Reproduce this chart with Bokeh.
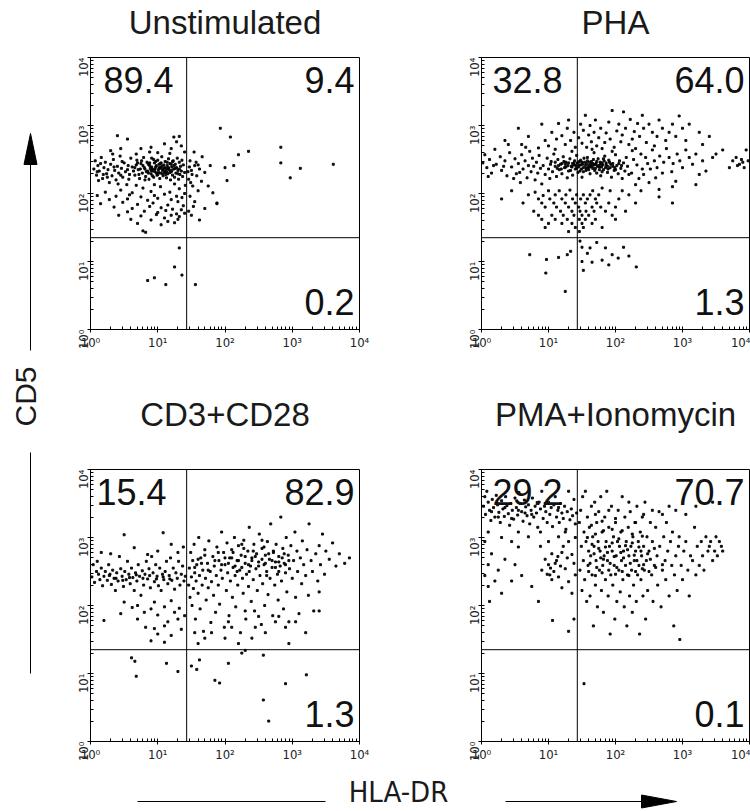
import math
from bokeh.plotting import figure
from bokeh.models import Range1d, FixedTicker, Span, Label, CustomJSTickFormatter
from bokeh.layouts import row, column
from bokeh.embed import file_html
from bokeh.resources import INLINE
from bokeh.core.properties import value

FONT = "Liberation Sans"
NARROW = "'Liberation Sans Narrow', 'DejaVu Sans Condensed', 'Liberation Sans', sans-serif"

# ---------------- data ----------------
titles = ["Unstimulated", "PHA", "CD3+CD28", "PMA+Ionomycin"]
quad_ul = ["89.4", "32.8", "15.4", "29.2"]
quad_ur = ["9.4", "64.0", "82.9", "70.7"]
quad_lr = ["0.2", "1.3", "1.3", "0.1"]
gate_x_decade = 1.43          # HLA-DR gate (log10)
gate_y_decade = 1.35          # CD5 gate (log10)
major_ticks = [1, 10, 100, 1000, 10000]
tick_labels = ["10\u2070", "10\u00b9", "10\u00b2", "10\u00b3", "10\u2074"]
x_label = "HLA-DR"
y_label = "CD5"

# events as (log10 HLA-DR, log10 CD5)
unstim_events = [
    (0.62,2.39),(0.66,2.27),(0.69,2.49),(0.71,2.35),(0.73,2.22),(0.75,2.44),(0.77,2.30),(0.79,2.53),(0.8,2.38),(0.82,2.25),
    (0.84,2.46),(0.85,2.33),(0.87,2.21),(0.88,2.41),(0.9,2.29),(0.91,2.52),(0.92,2.36),(0.94,2.24),(0.95,2.45),(0.96,2.32),
    (0.97,2.39),(0.99,2.27),(1.0,2.49),(1.01,2.35),(1.02,2.43),(1.03,2.22),(1.04,2.30),(1.05,2.38),(1.06,2.54),(1.07,2.34),
    (1.08,2.26),(1.09,2.42),(1.1,2.31),(1.11,2.47),(1.12,2.37),(1.13,2.23),(1.14,2.41),(1.15,2.29),(1.16,2.51),(1.17,2.35),
    (1.18,2.44),(1.19,2.20),(1.2,2.32),(1.21,2.39),(1.22,2.27),(1.23,2.48),(1.24,2.36),(1.25,2.24),(1.26,2.43),(1.27,2.30),
    (1.28,2.38),(1.29,2.52),(1.3,2.34),(1.31,2.21),(1.32,2.46),(1.33,2.28),(1.34,2.40),(1.35,2.33),(1.36,2.49),(1.37,2.25),
    (0.93,2.33),(0.98,2.41),(1.03,2.37),(1.08,2.35),(1.13,2.32),(0.89,2.37),(0.86,2.43),(1.0,2.28),(1.05,2.45),(1.1,2.38),
    (1.15,2.36),(1.2,2.43),(0.83,2.32),(0.78,2.41),(0.72,2.28),(0.68,2.42),(0.64,2.33),(0.76,2.48),(0.81,2.20),(0.94,2.50),
    (0.86,2.30),(0.91,2.39),(0.96,2.36),(1.01,2.31),(1.06,2.40),(1.11,2.33),(1.16,2.38),(1.21,2.34),(1.26,2.37),(0.81,2.36),
    (0.88,2.45),(0.98,2.30),(1.04,2.44),(1.12,2.28),(1.18,2.31),(1.24,2.41),(1.3,2.29),(0.74,2.36),(0.92,2.26),(1.07,2.29),
    (0.97,2.47),(1.14,2.46),(1.32,2.36),(1.38,2.42),(1.4,2.31),(0.7,2.45),(0.66,2.38),(1.22,2.47),(1.02,2.38),(0.9,2.34),
    (0.05,2.36),(0.07,2.48),(0.09,2.27),(0.11,2.41),(0.13,2.33),(0.16,2.53),(0.18,2.22),(0.2,2.38),(0.22,2.46),(0.24,2.29),
    (0.26,2.35),(0.28,2.16),(0.3,2.43),(0.32,2.26),(0.34,2.50),(0.36,2.34),(0.38,2.20),(0.4,2.40),(0.42,2.30),(0.44,2.55),
    (0.46,2.37),(0.48,2.24),(0.5,2.45),(0.52,2.32),(0.54,2.13),(0.56,2.41),(0.58,2.28),(0.6,2.52),(0.15,2.44),(0.25,2.24),
    (0.35,2.39),(0.45,2.27),(0.55,2.35),(0.12,2.19),(0.33,2.58),(0.47,2.47),(0.57,2.21),(0.1,2.32),(0.41,2.14),(0.19,2.28),
    (0.3,2.63),(0.55,2.80),(0.75,2.66),(0.9,2.68),(1.1,2.73),(1.2,2.66),(1.28,2.76),(1.35,2.70),(1.0,2.60),(0.68,2.58),
    (1.4,2.61),(1.18,2.59),(0.88,2.61),(0.45,2.66),(0.4,2.85),(1.24,2.83),(1.32,2.84),
    (0.22,2.02),(0.45,2.05),(0.62,2.01),(0.78,2.08),(0.9,2.03),(1.04,2.10),(1.18,2.02),(1.32,2.07),(1.41,2.12),(0.1,1.97),
    (0.38,1.96),(0.58,1.98),(0.75,1.95),(0.95,1.97),(1.1,1.99),(1.28,1.96),(1.4,2.00),(0.28,1.91),(0.55,1.92),(0.85,1.90),
    (1.0,1.93),(1.2,1.91),(1.36,1.94),(0.15,1.85),(0.48,1.87),(0.7,1.84),(0.93,1.86),(1.15,1.83),(1.3,1.88),(0.35,1.80),
    (0.62,1.78),(0.88,1.81),(1.05,1.79),(1.22,1.77),(1.38,1.82),(0.55,1.73),(0.8,1.74),(1.0,1.72),(1.12,1.75),(1.28,1.70),
    (1.35,1.76),(0.42,1.68),(0.75,1.67),(0.98,1.69),(1.1,1.64),(1.2,1.68),(1.32,1.66),(1.4,1.71),(0.6,1.62),(0.9,1.61),
    (1.15,1.59),(1.3,1.62),(0.7,1.56),(1.05,1.54),(1.25,1.57),(0.78,1.45),(0.82,1.43),(0.95,2.13),(0.68,2.12),(1.25,2.14),
    (1.48,2.48),(1.55,2.41),(1.62,2.36),(1.5,2.34),(1.7,2.31),(1.58,2.26),(1.46,2.21),(1.65,2.18),(1.75,2.11),(1.52,2.11),
    (1.6,2.04),(1.48,1.96),(1.82,2.01),(1.55,1.88),(1.7,1.78),(1.5,1.68),(1.62,1.61),(1.88,1.86),(1.78,2.41),(1.66,2.54),
    (1.54,2.61),(1.47,2.39),(1.51,2.28),(1.57,2.46),(1.45,2.32),(1.6,2.42),(1.49,2.16),(1.53,1.81),(1.46,1.74),
    (1.93,2.96),(2.08,2.83),(2.2,2.57),(2.35,2.62),(2.13,2.41),(2.83,2.68),(2.83,2.45),(2.97,2.23),(3.12,2.37),(3.61,2.43),
    (2.03,2.19),(1.88,1.85),(2.0,2.38),
    (0.85,0.72),(0.95,0.76),(1.12,0.66),(1.25,0.92),(1.32,1.2),(1.36,0.8),(1.56,0.66),
]

pha_events = [
    (0.92,2.41),(0.95,2.28),(0.98,2.52),(1.0,2.36),(1.02,2.22),(1.04,2.47),(1.06,2.32),(1.08,2.58),(1.1,2.40),(1.12,2.25),
    (1.14,2.50),(1.16,2.35),(1.18,2.43),(1.2,2.29),(1.22,2.54),(1.24,2.38),(1.26,2.46),(1.28,2.23),(1.3,2.33),(1.32,2.51),
    (1.34,2.40),(1.36,2.27),(1.38,2.45),(1.4,2.36),(1.42,2.56),(1.44,2.31),(1.46,2.42),(1.48,2.49),(1.5,2.24),(1.52,2.38),
    (1.54,2.46),(1.56,2.34),(1.58,2.53),(1.6,2.41),(1.62,2.29),(1.64,2.47),(1.66,2.37),(1.68,2.60),(1.7,2.43),(1.72,2.30),
    (1.74,2.51),(1.76,2.39),(1.78,2.26),(1.8,2.45),(1.82,2.35),(1.84,2.55),(1.86,2.42),(1.88,2.31),(1.9,2.49),(1.92,2.38),
    (1.94,2.24),(1.96,2.44),(1.98,2.34),(2.0,2.57),(2.02,2.41),(2.04,2.29),(2.06,2.48),(2.08,2.37),(2.1,2.22),(2.12,2.45),
    (2.14,2.33),(2.16,2.53),(2.18,2.40),(2.2,2.28),(1.45,2.39),(1.55,2.41),(1.65,2.40),(1.75,2.41),(1.85,2.38),(1.5,2.46),
    (1.6,2.35),(1.7,2.37),(1.8,2.32),(1.57,2.44),(1.67,2.50),(1.77,2.46),(1.35,2.39),(1.25,2.43),(1.15,2.41),(1.47,2.33),
    (1.53,2.52),(1.63,2.43),(1.73,2.40),(1.83,2.48),(1.93,2.43),(1.43,2.45),(1.33,2.34),(1.23,2.47),(1.13,2.37),(1.03,2.43),
    (1.49,2.36),(1.59,2.38),(1.69,2.34),(1.79,2.39),(1.89,2.36),(1.99,2.38),(2.09,2.41),(1.39,2.48),(1.29,2.41),(1.19,2.36),
    (1.41,2.41),(1.51,2.43),(1.61,2.46),(1.71,2.44),(1.81,2.42),(1.91,2.46),(1.46,2.47),(1.56,2.37),(1.66,2.44),(1.76,2.35),
    (1.86,2.45),(1.36,2.44),(1.26,2.39),(1.62,2.39),(1.72,2.47),(1.52,2.32),(1.42,2.37),(1.82,2.51),(1.96,2.40),(2.05,2.44),
    (1.58,2.48),(1.68,2.42),(1.78,2.43),(1.48,2.42),(1.38,2.42),(1.88,2.40),(2.0,2.35),(1.3,2.45),(1.2,2.44),(1.1,2.46),
    (0.02,2.45),(0.05,2.57),(0.08,2.38),(0.12,2.50),(0.15,2.30),(0.2,2.65),(0.22,2.43),(0.28,2.54),(0.3,2.34),(0.35,2.48),
    (0.38,2.26),(0.42,2.60),(0.45,2.39),(0.5,2.51),(0.52,2.29),(0.55,2.44),(0.58,2.16),(0.6,2.57),(0.62,2.36),(0.65,2.48),
    (0.68,2.23),(0.7,2.41),(0.72,2.62),(0.74,2.32),(0.76,2.52),(0.78,2.40),(0.8,2.20),(0.82,2.46),(0.84,2.30),(0.86,2.56),
    (0.88,2.37),(0.9,2.14),(0.48,2.22),(0.33,2.40),(0.18,2.41),(0.66,2.68),(0.4,2.72),(0.1,2.25),(0.57,2.31),(0.85,2.67),
    (0.55,2.96),(0.7,2.84),(0.35,2.78),(0.6,2.72),(0.9,3.02),(0.95,2.78),(1.0,2.70),(1.05,2.90),(1.12,2.80),(1.15,3.03),
    (1.2,2.85),(1.25,2.72),(1.28,2.96),(1.3,3.08),(1.33,2.78),(1.38,2.90),(1.4,2.68),(1.45,2.82),(1.48,3.02),(1.5,2.74),
    (1.52,2.93),(1.55,3.15),(1.57,2.68),(1.6,2.86),(1.62,3.00),(1.64,2.76),(1.68,2.90),(1.7,3.08),(1.72,2.70),(1.75,2.82),
    (1.78,2.96),(1.8,2.66),(1.84,2.75),(1.86,2.89),(1.9,3.05),(1.92,2.80),(1.95,3.22),(1.98,2.68),(2.02,2.92),(2.05,3.02),
    (2.08,2.76),(2.1,2.86),(2.12,3.20),(2.15,2.96),(2.2,2.72),(2.22,3.09),(2.25,2.80),(2.28,2.91),(2.3,2.66),(2.33,3.03),
    (2.36,2.84),(2.4,3.15),(2.42,2.96),(2.46,2.75),(2.5,3.02),(2.55,2.90),(2.58,2.70),(2.62,2.84),(2.65,3.08),(2.7,2.96),
    (2.75,2.78),(2.8,2.90),(2.85,3.02),(2.9,2.84),(2.95,3.14),(3.0,2.96),(3.05,2.78),(3.1,3.02),(3.25,2.90),(3.3,2.72),
    (3.4,2.84),(1.35,2.62),(1.65,2.65),(1.95,2.62),(2.25,2.63),(1.1,2.65),
    (2.24,2.30),(2.27,2.50),(2.3,2.13),(2.32,2.42),(2.35,2.22),(2.38,2.58),(2.4,2.36),(2.42,2.28),(2.45,2.53),(2.48,2.44),
    (2.5,2.16),(2.52,2.36),(2.55,2.64),(2.58,2.48),(2.6,2.23),(2.62,2.38),(2.66,2.55),(2.7,2.30),(2.72,2.46),(2.76,2.66),
    (2.8,2.53),(2.84,2.32),(2.86,2.44),(2.9,2.18),(2.92,2.58),(2.96,2.48),(3.0,2.38),(3.05,2.64),(3.1,2.53),(3.15,2.43),
    (3.2,2.58),(3.25,2.28),(3.3,2.48),(3.35,2.33),(3.45,2.53),(3.5,2.58),(3.6,2.64),(3.7,2.38),(3.75,2.48),(3.8,2.53),
    (3.85,2.43),(3.9,2.46),(3.92,2.38),(3.95,2.64),(3.98,2.48),(3.88,2.50),(3.82,2.41),(2.65,2.06),(2.85,2.10),(3.2,2.13),
    (0.45,2.04),(0.7,1.98),(0.3,1.92),(0.62,1.86),(0.8,2.02),(0.85,1.92),(0.9,1.86),(0.92,1.97),(0.95,1.8),(1.0,2.04),
    (1.02,1.92),(1.05,1.68),(1.08,1.86),(1.1,1.98),(1.12,1.8),(1.16,2.04),(1.18,1.74),(1.2,1.92),(1.22,1.68),(1.25,1.86),
    (1.26,1.98),(1.28,1.62),(1.3,1.8),(1.32,2.05),(1.35,1.74),(1.36,1.92),(1.38,1.68),(1.4,1.86),(1.42,1.98),(1.45,1.8),
    (1.46,1.62),(1.47,1.74),(1.48,1.92),(1.5,1.68),(1.52,1.98),(1.55,1.86),(1.56,1.74),(1.58,1.92),(1.6,1.68),(1.62,1.98),
    (1.65,1.8),(1.66,2.04),(1.68,1.74),(1.7,1.92),(1.72,1.86),(1.75,1.98),(1.78,1.8),(1.8,2.08),(1.85,1.74),(1.9,1.86),
    (1.92,2.04),(1.95,1.68),(2.0,1.8),(2.05,1.92),(2.1,2.04),(2.15,1.74),(2.2,1.98),(2.3,1.86),(2.38,2.04),(2.65,1.95),
    (2.85,1.86),(0.78,1.74),(0.85,1.68),(0.9,1.62),(1.0,1.56),(1.2,1.56),(1.35,1.56),(1.5,1.56),(1.65,1.56),(0.95,1.5),
    (1.4,1.5),(1.52,1.5),(1.8,1.5),(1.3,1.44),(1.46,1.44),(1.1,1.62),(1.55,1.62),(1.7,1.62),(2.0,1.62),
    (0.72,1.1),(0.97,1.03),(1.15,1.06),(1.28,1.1),(0.96,0.83),(1.25,0.56),(1.33,1.15),
    (1.5,1.21),(1.62,1.2),(1.85,1.2),(2.12,1.21),(1.5,1.0),(1.65,0.99),(1.8,1.02),(1.52,0.87),
    (2.31,0.92),(2.04,1.05),(1.58,1.12),(1.72,1.28),(1.95,1.1),(1.47,1.3),(2.2,1.08),(1.9,0.95),
]

cd3_events = [
    (0.02,2.42),(0.04,2.60),(0.06,2.34),(0.09,2.50),(0.1,2.65),(0.12,2.46),(0.14,2.38),(0.16,2.55),(0.18,2.29),(0.2,2.43),
    (0.22,2.50),(0.25,2.37),(0.27,2.60),(0.29,2.46),(0.31,2.31),(0.33,2.52),(0.35,2.40),(0.37,2.22),(0.39,2.48),(0.41,2.36),
    (0.43,2.72),(0.45,2.54),(0.47,2.43),(0.49,2.28),(0.51,2.50),(0.53,2.38),(0.55,2.65),(0.57,2.46),(0.59,2.32),(0.61,2.55),
    (0.63,2.41),(0.65,2.22),(0.67,2.48),(0.69,2.36),(0.71,2.60),(0.73,2.43),(0.75,2.15),(0.77,2.51),(0.79,2.30),(0.81,2.46),
    (0.83,2.65),(0.85,2.39),(0.87,2.54),(0.89,2.26),(0.91,2.72),(0.93,2.48),(0.95,2.35),(0.97,2.60),(0.99,2.43),(1.01,2.29),
    (1.03,2.55),(1.05,2.22),(1.07,2.46),(1.09,2.38),(1.11,2.50),(1.13,2.65),(1.15,2.32),(1.17,2.44),(1.19,2.70),(1.21,2.37),
    (1.23,2.55),(1.25,2.24),(1.27,2.48),(1.29,2.40),(1.31,2.65),(1.33,2.30),(1.35,2.46),(1.37,2.58),(1.39,2.36),(1.41,2.43),
    (0.58,2.41),(0.68,2.45),(0.78,2.40),(0.88,2.44),(0.98,2.39),(1.08,2.42),(0.48,2.37),(0.38,2.40),(0.28,2.44),(1.18,2.39),
    (0.5,2.05),(0.7,2.0),(0.95,2.05),(1.2,2.07),(0.62,1.97),(0.9,1.95),(1.1,1.98),(1.32,1.96),(0.45,1.88),(0.8,1.9),
    (1.0,1.86),(1.25,1.9),(1.4,1.85),(0.2,1.78),(0.7,1.8),(1.15,1.76),(1.3,1.8),(0.82,1.68),(0.95,1.66),(1.1,1.7),
    (1.35,1.65),(1.0,1.58),(1.2,1.56),(0.9,1.48),(1.1,1.46),
    (0.5,3.04),(1.08,3.07),(0.16,2.78),(0.65,2.85),(1.2,2.9),(0.85,2.75),(1.3,2.78),(1.38,2.86),(0.3,2.76),(1.0,2.8),
    (1.46,2.3),(1.47,2.55),(1.48,2.12),(1.49,2.78),(1.5,2.42),(1.51,2.0),(1.52,2.66),(1.53,2.25),(1.54,2.9),(1.55,2.48),
    (1.56,1.8),(1.57,2.36),(1.58,2.6),(1.6,2.18),(1.61,3.0),(1.62,2.44),(1.63,1.95),(1.64,2.7),(1.66,2.3),(1.67,2.52),
    (1.68,1.62),(1.7,2.82),(1.71,2.4),(1.72,2.08),(1.74,2.62),(1.75,2.26),(1.76,2.95),(1.78,2.5),(1.79,1.75),(1.8,2.35),
    (1.82,2.72),(1.83,2.15),(1.84,2.58),(1.86,1.9),(1.87,2.44),(1.88,2.86),(1.9,2.3),(1.91,2.66),(1.92,2.02),(1.94,2.52),
    (1.95,3.08),(1.96,2.4),(1.98,2.78),(1.99,1.68),(2.0,2.6),(2.02,2.22),(2.03,2.92),(2.04,2.48),(2.06,1.85),(2.07,2.7),
    (2.08,2.36),(2.1,2.82),(2.11,2.12),(2.12,2.56),(2.14,3.0),(2.15,2.44),(2.16,1.98),(2.18,2.66),(2.19,2.3),(2.2,2.88),
    (2.22,2.52),(2.23,1.6),(2.24,2.74),(2.26,2.4),(2.27,2.18),(2.28,2.96),(2.3,2.62),(2.31,1.8),(2.32,2.46),(2.34,2.8),
    (2.35,2.28),(2.36,3.15),(2.38,2.58),(2.39,2.06),(2.4,2.7),(2.42,2.38),(2.43,2.9),(2.44,1.92),(2.46,2.54),(2.47,2.76),
    (2.48,2.22),(2.5,2.64),(2.51,3.05),(2.52,2.44),(2.54,1.72),(2.55,2.84),(2.56,2.32),(2.58,2.6),(2.59,2.0),(2.6,2.74),
    (2.62,2.5),(2.63,2.94),(2.64,2.16),(2.66,2.68),(2.67,2.4),(2.68,3.2),(2.7,2.56),(2.71,1.85),(2.72,2.8),(2.74,2.3),
    (2.75,2.64),(2.76,2.9),(2.78,2.46),(2.79,2.08),(2.8,2.72),(2.82,2.58),(2.83,3.3),(2.84,2.36),(2.86,2.84),(2.87,1.95),
    (2.88,2.62),(2.9,2.48),(2.91,3.0),(2.92,2.2),(2.94,2.74),(2.95,1.76),(2.96,2.54),(2.98,2.88),(3.0,2.4),(3.02,2.66),
    (3.04,3.08),(3.05,2.12),(3.07,2.8),(3.08,2.5),(3.1,1.88),(3.12,2.7),(3.14,2.32),(3.15,2.95),(3.17,2.6),(3.2,2.44),
    (3.22,2.82),(3.24,2.15),(3.25,3.2),(3.28,2.66),(3.3,2.5),(3.32,1.92),(3.35,2.76),(3.38,2.36),(3.4,2.88),(3.42,2.6),
    (3.45,3.05),(3.48,2.46),(3.5,2.8),(3.55,2.68),(3.6,2.92),(3.65,2.58),(3.7,2.76),(3.78,2.62),(3.85,2.7),(3.4,2.2),
    (3.2,1.6),(2.95,1.44),(2.6,1.6),(2.4,1.52),(2.2,1.44),(2.0,1.52),(1.8,1.6),(1.6,1.44),(1.7,1.52),(2.1,1.68),
    (2.45,1.68),(2.9,1.68),(3.05,1.76),(2.75,1.76),(2.5,1.84),(2.3,1.92),(2.8,1.84),(3.4,1.92),(2.05,1.76),(1.55,1.6),
    (2.05,2.62),(2.1,2.7),(2.15,2.58),(2.2,2.66),(2.25,2.56),(2.3,2.72),(2.35,2.6),(2.4,2.66),(2.45,2.72),(2.5,2.58),
    (2.55,2.68),(2.6,2.62),(2.65,2.76),(2.7,2.66),(2.75,2.56),(2.8,2.64),(2.85,2.7),(2.9,2.6),(2.95,2.66),(2.0,2.7),
    (2.12,2.78),(2.28,2.84),(2.42,2.8),(2.58,2.86),(2.72,2.78),(2.88,2.76),(2.18,2.5),(2.36,2.5),(2.62,2.44),(2.8,2.5),
    (1.95,2.6),(1.85,2.66),(1.75,2.52),(1.65,2.62),(1.55,2.56),(1.6,2.68),(1.7,2.74),(1.9,2.78),(2.25,2.9),(2.55,2.96),
    (0.61,1.23),(0.66,1.18),(1.13,1.15),(1.3,1.03),(0.68,0.96),
    (1.5,1.11),(1.58,1.06),(1.85,0.9),(1.92,0.86),(2.25,1.3),(2.3,1.34),(2.57,1.27),(2.9,0.85),
    (3.21,0.98),(2.57,0.61),(1.62,1.2),(2.05,1.15),(2.65,0.3),
]

pma_events = [
    (0.03,3.46),(0.05,3.6),(0.06,3.34),(0.08,3.68),(0.1,3.52),(0.12,3.4),(0.14,3.25),(0.16,3.56),(0.18,3.44),(0.2,3.3),
    (0.22,3.62),(0.24,3.48),(0.26,3.37),(0.28,3.22),(0.3,3.54),(0.32,3.42),(0.34,3.31),(0.36,3.6),(0.38,3.47),(0.4,3.35),
    (0.42,3.18),(0.44,3.5),(0.46,3.4),(0.48,3.27),(0.5,3.58),(0.52,3.44),(0.54,3.33),(0.56,3.66),(0.58,3.5),(0.6,3.38),
    (0.62,3.24),(0.64,3.55),(0.66,3.45),(0.68,3.32),(0.7,3.48),(0.72,3.2),(0.74,3.4),(0.76,3.58),(0.78,3.3),(0.8,3.46),
    (0.82,3.36),(0.84,3.15),(0.86,3.52),(0.88,3.42),(0.9,3.68),(0.92,3.28),(0.94,3.46),(0.96,3.38),(0.98,3.22),(1.0,3.52),
    (1.02,3.34),(1.04,3.44),(1.06,3.16),(1.08,3.48),(1.1,3.6),(1.12,3.3),(1.14,3.4),(1.16,3.22),(1.18,3.5),(1.2,3.36),
    (1.22,3.28),(1.24,3.46),(1.26,3.12),(1.28,3.38),(1.3,3.68),(1.32,3.26),(1.34,3.42),(1.36,3.32),(1.38,3.56),(1.4,3.2),
    (1.42,3.36),(0.15,3.38),(0.35,3.44),(0.55,3.4),(0.75,3.34),(0.95,3.5),(1.15,3.44),(0.25,3.3),(0.45,3.28),(0.65,3.36),
    (0.1,3.08),(0.3,3.0),(0.55,3.08),(0.7,3.01),(0.88,3.08),(1.15,3.01),(1.25,3.08),(1.4,3.0),(0.05,2.94),(0.45,2.94),
    (1.0,2.94),(1.3,2.94),(0.55,2.86),(0.88,2.87),(1.22,2.87),(0.15,2.76),(1.05,2.76),(1.2,2.78),(1.35,2.75),(0.35,2.68),
    (0.95,2.68),(1.12,2.66),(1.28,2.7),(0.1,2.6),(0.5,2.6),(1.0,2.6),(1.18,2.58),(1.38,2.62),(0.25,2.52),(0.9,2.52),
    (1.08,2.5),(1.25,2.54),(0.05,2.44),(0.6,2.44),(0.98,2.46),(1.15,2.42),(1.4,2.45),(0.2,2.36),(0.45,2.36),(1.05,2.38),
    (1.3,2.35),(0.1,2.28),(0.75,2.28),(1.2,2.26),(0.3,2.18),(1.35,2.18),(0.12,2.06),(0.85,2.06),(1.06,1.78),(1.38,1.8),
    (1.3,1.62),(1.03,2.55),(1.1,2.62),(1.14,2.72),(1.02,2.45),
    (1.46,3.22),(1.47,2.52),(1.48,3.4),(1.49,2.87),(1.5,2.22),(1.51,3.6),(1.52,2.66),(1.53,3.08),(1.54,2.38),(1.55,3.68),
    (1.56,2.94),(1.57,2.06),(1.58,3.3),(1.59,2.59),(1.6,2.8),(1.61,3.15),(1.62,2.14),(1.63,2.73),(1.64,3.46),(1.65,2.45),
    (1.66,3.01),(1.67,1.7),(1.68,2.87),(1.69,3.52),(1.7,2.3),(1.71,2.66),(1.72,3.22),(1.73,1.98),(1.74,2.94),(1.75,3.38),
    (1.76,2.52),(1.77,2.8),(1.78,3.6),(1.79,2.22),(1.8,3.08),(1.81,2.59),(1.82,1.9),(1.83,2.73),(1.84,3.3),(1.85,2.38),
    (1.86,2.94),(1.87,3.68),(1.88,2.66),(1.89,2.14),(1.9,3.15),(1.91,2.87),(1.92,1.58),(1.93,2.45),(1.94,3.46),(1.95,2.8),
    (1.96,2.3),(1.97,3.01),(1.98,2.59),(1.99,1.8),(2.0,3.22),(2.01,2.73),(2.02,2.06),(2.03,2.94),(2.04,3.4),(2.05,2.52),
    (2.06,2.87),(2.07,2.2),(2.08,3.08),(2.09,2.66),(2.1,3.6),(2.11,2.38),(2.12,2.8),(2.13,1.98),(2.14,3.3),(2.15,2.59),
    (2.16,2.94),(2.17,1.7),(2.18,2.45),(2.19,3.15),(2.2,2.73),(2.21,2.14),(2.22,3.38),(2.23,2.87),(2.24,2.52),(2.25,1.9),
    (2.26,3.01),(2.27,2.3),(2.28,2.66),(2.29,3.22),(2.3,2.8),(2.31,2.06),(2.32,3.46),(2.33,2.45),(2.34,2.94),(2.35,2.59),
    (2.36,1.58),(2.37,3.08),(2.38,2.38),(2.39,2.73),(2.4,3.3),(2.41,2.14),(2.42,2.87),(2.43,2.52),(2.44,3.52),(2.45,1.8),
    (2.46,2.66),(2.47,3.01),(2.48,2.22),(2.5,2.8),(2.52,3.22),(2.54,2.45),(2.55,2.94),(2.56,2.06),(2.58,2.59),(2.6,3.15),
    (2.62,2.73),(2.63,2.3),(2.65,3.38),(2.66,2.87),(2.68,1.98),(2.7,2.52),(2.72,3.01),(2.74,2.66),(2.75,2.38),(2.76,3.22),
    (2.78,2.8),(2.8,2.14),(2.82,2.94),(2.84,2.59),(2.85,3.08),(2.87,1.7),(2.88,2.45),(2.9,2.73),(2.92,2.22),(2.94,2.87),
    (2.95,3.01),(2.96,1.5),(2.98,2.59),(3.0,2.38),(3.02,2.8),(3.05,2.94),(3.08,2.52),(3.1,2.14),(3.12,2.73),(3.15,2.66),
    (3.18,3.15),(3.2,2.45),(3.22,2.87),(3.25,2.59),(3.28,2.94),(3.3,2.73),(3.32,2.52),(3.35,3.01),(3.38,2.8),(3.4,2.87),
    (3.42,2.94),(3.45,2.66),(3.48,2.8),(3.5,3.01),(3.52,2.73),(3.55,2.94),(3.58,2.87),(3.6,2.8),(3.45,3.52),(3.2,3.46),
    (3.05,3.34),(2.9,3.4),(2.8,3.46),(2.7,3.34),(2.55,3.4),(2.42,3.34),(2.3,3.22),(2.2,3.52),(1.9,3.4),(1.7,3.34),
    (1.62,2.62),(1.72,2.56),(1.82,2.68),(1.92,2.62),(2.02,2.56),(2.12,2.7),(2.22,2.62),(2.32,2.66),(2.42,2.6),(2.52,2.68),
    (1.68,2.76),(1.78,2.7),(1.88,2.78),(1.98,2.72),(2.08,2.78),(2.18,2.82),(2.28,2.74),(2.38,2.8),(2.48,2.76),(2.58,2.84),
    (1.65,2.9),(1.75,2.84),(1.85,2.86),(1.95,2.92),(2.05,2.98),(2.15,2.88),(2.25,2.92),(2.35,2.86),(1.6,2.5),(1.7,2.44),
    (1.8,2.48),(1.9,2.52),(2.0,2.46),(2.1,2.5),(2.2,2.44),(2.3,2.5),(2.4,2.54),(2.5,2.5),(2.6,2.56),(2.7,2.6),
    (1.58,3.0),(1.7,3.05),(1.82,3.1),(1.95,3.12),(2.1,3.1),(2.25,3.05),(2.4,3.02),(1.64,3.18),(1.8,3.24),(2.0,3.28),
    (1.53,0.85),
]

panel_events = [unstim_events, pha_events, cd3_events, pma_events]

# ---------------- layout (pixels) ----------------
LY_W = 48                     # width of the CD5 caption strip
FRAME_H = 272
A_LEFT, A_RIGHT, A_FW = 42, 70, 269
B_LEFT, B_RIGHT, B_FW = 52, 1, 268
CAP_W = 750 - LY_W
TOP1_H, ROW1_H = 45, 335       # row 1: titles strip + panels
TOP2_H, ROW2_H = 60, 325       # row 2
LX_H = 46
UL_DX = [13, 11, 6, 11]

minor = [d * 10 ** k for k in range(4) for d in range(2, 10)]
fmt = CustomJSTickFormatter(args=dict(major=major_ticks, labels=tick_labels),
                            code="const i = major.indexOf(Math.round(tick)); return i < 0 ? '' : labels[i];")


def plain(width, height, x0, y0):
    f = figure(width=width, height=height, x_range=Range1d(x0, x0 + width), y_range=Range1d(y0 + height, y0),
               toolbar_location=None, output_backend="svg", x_axis_location=None, y_axis_location=None,
               min_border=0, outline_line_color=None, background_fill_color="white", border_fill_color="white")
    f.grid.visible = False
    return f


def panel(i, width, height, bl, br, bt, bb, fw):
    p = figure(width=width, height=height, x_axis_type="log", y_axis_type="log",
               x_range=Range1d(1, 10000), y_range=Range1d(1, 10000),
               toolbar_location=None, output_backend="svg",
               min_border_left=bl, min_border_right=br, min_border_top=bt, min_border_bottom=bb,
               background_fill_color="white", border_fill_color="white")
    p.grid.visible = False
    p.outline_line_color = "black"
    p.outline_line_width = 1
    for ax in (p.xaxis[0], p.yaxis[0]):
        ax.ticker = FixedTicker(ticks=major_ticks, minor_ticks=minor)
        ax.formatter = fmt
        ax.axis_line_color = "black"
        ax.major_tick_line_color = "black"
        ax.minor_tick_line_color = "black"
        ax.major_tick_out = 3
        ax.major_tick_in = 3
        ax.minor_tick_out = 0
        ax.minor_tick_in = 3
        ax.major_label_text_font = NARROW
        ax.major_label_text_font_size = "13px"
        ax.major_label_text_color = "#222222"
    p.xaxis.major_label_standoff = 2
    p.yaxis.major_label_standoff = 4
    p.yaxis.major_label_orientation = math.pi / 2

    pts = panel_events[i]
    xs = [10 ** a for a, b in pts]
    ys = [10 ** b for a, b in pts]
    p.scatter(xs, ys, marker="square", size=2, color="black", alpha=0.9)

    p.add_layout(Span(location=10 ** gate_x_decade, dimension="height", line_color="black", line_width=1))
    p.add_layout(Span(location=10 ** gate_y_decade, dimension="width", line_color="black", line_width=1))

    num = dict(x_units="screen", y_units="screen", text_font=FONT, text_font_size="36px",
               text_color="#111111", text_baseline="middle")
    p.add_layout(Label(x=UL_DX[i], y=FRAME_H - 22, text=quad_ul[i], text_align="left", **num))
    p.add_layout(Label(x=fw - 5, y=FRAME_H - 22, text=quad_ur[i], text_align="right", **num))
    p.add_layout(Label(x=fw - 5, y=28, text=quad_lr[i], text_align="right", **num))
    return p


pA = panel(0, A_LEFT + A_FW + A_RIGHT, ROW1_H, A_LEFT, A_RIGHT, 12, ROW1_H - 12 - FRAME_H, A_FW)
pB = panel(1, B_LEFT + B_FW + B_RIGHT, ROW1_H, B_LEFT, B_RIGHT, 12, ROW1_H - 12 - FRAME_H, B_FW)
pC = panel(2, A_LEFT + A_FW + A_RIGHT, ROW2_H, A_LEFT, A_RIGHT, 29, ROW2_H - 29 - FRAME_H, A_FW)
pD = panel(3, B_LEFT + B_FW + B_RIGHT, ROW2_H, B_LEFT, B_RIGHT, 29, ROW2_H - 29 - FRAME_H, B_FW)

centre_a = LY_W + A_LEFT + A_FW / 2
centre_b = LY_W + A_LEFT + A_FW + A_RIGHT + B_LEFT + B_FW / 2
title_style = dict(text_align="center", text_baseline="middle", text_font=value(FONT),
                   text_font_size="33px", text_color="#1a1a1a")

t1 = plain(CAP_W, TOP1_H, LY_W, 0)
t1.text(x=[centre_a, centre_b], y=[21.5, 21.5], text=titles[:2], **title_style)
y2 = TOP1_H + ROW1_H
t2 = plain(CAP_W, TOP2_H, LY_W, y2)
t2.text(x=[centre_a, centre_b], y=[y2 + 34, y2 + 34], text=titles[2:], **title_style)

# y-axis caption with arrow (page pixel coordinates)
ly = plain(LY_W, 811, 0, 0)
ly.segment(x0=[30, 30], y0=[160, 452], x1=[30, 30], y1=[350, 673], line_color="black", line_width=1)
ly.patch(x=[30, 23.5, 36.5], y=[133, 164, 164], color="black")
ly.text(x=[25], y=[396], text=[y_label], angle=math.pi / 2, text_align="center", text_baseline="middle",
        text_font=value(FONT), text_font_size="30px", text_color="#1a1a1a")

# x-axis caption with arrow
lx = plain(CAP_W, LX_H, LY_W, 811 - LX_H)
lx.segment(x0=[137, 505], y0=[801, 801], x1=[325, 645], y1=[801, 801], line_color="black", line_width=1)
lx.patch(x=[641, 676, 641], y=[794.5, 801, 807.5], color="black")
lx.text(x=[398], y=[791], text=[x_label], text_align="center", text_baseline="middle",
        text_font=value(NARROW), text_font_size="29px", text_color="#1a1a1a")

layout = row(ly, column(t1, row(pA, pB), t2, row(pC, pD), lx))

with open("out.html", "w") as f:
    f.write(file_html(layout, INLINE))
